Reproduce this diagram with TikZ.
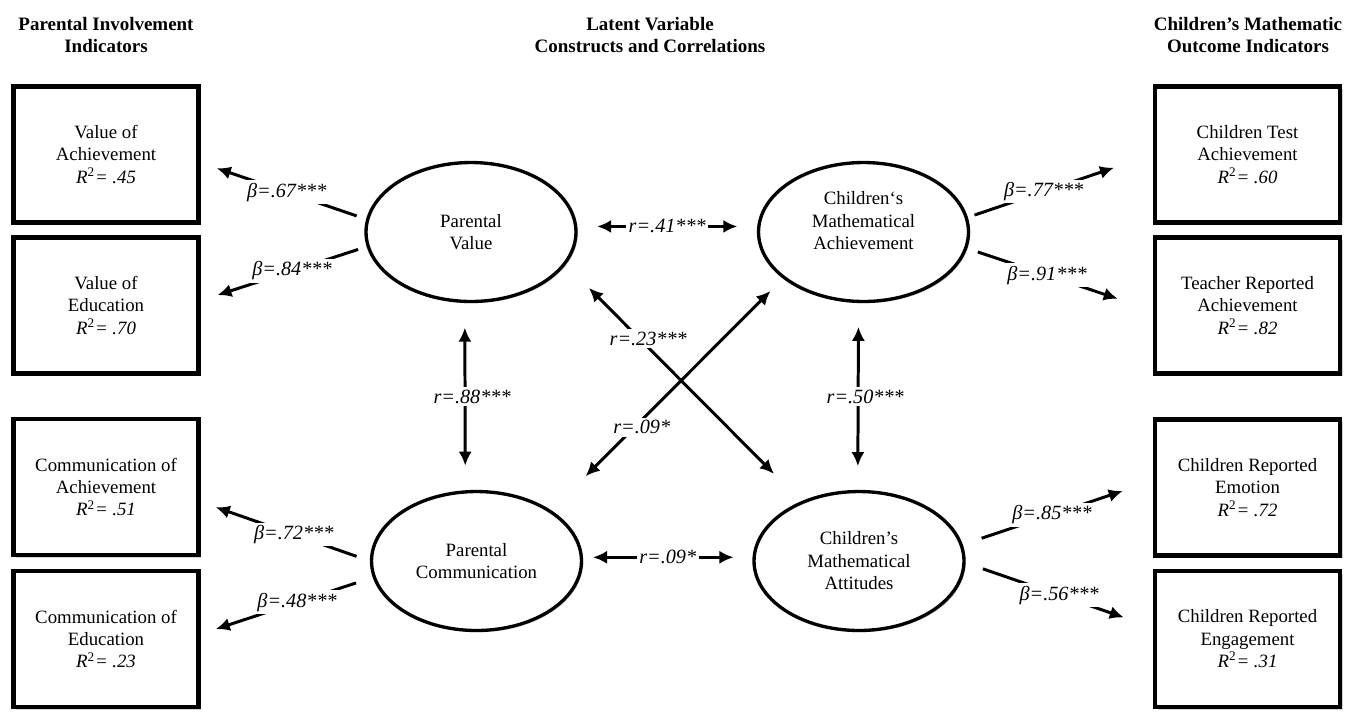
\documentclass[tikz,border=0pt]{standalone}
\usepackage{fontspec}
\setmainfont{Liberation Serif}
\usetikzlibrary{arrows.meta,shapes.geometric,shadows}
\newcommand{\rsq}[1]{\textit{R}\textsuperscript{2}\textit{= #1}}

\begin{document}
\begin{tikzpicture}[x=0.02cm,y=-0.02cm,
	every node/.style={font=\fontsize{10.7}{12.8}\selectfont,align=center},
	head/.style={font=\fontsize{10.8}{13}\selectfont\bfseries},
	ind/.style={draw,line width=2.6pt,minimum width=3.7cm,minimum height=2.72cm,fill=white,
		drop shadow={shadow xshift=1.5pt,shadow yshift=-1.5pt,opacity=0.35}},
	lat/.style={ellipse,draw,line width=1.9pt,minimum width=4.2cm,minimum height=2.78cm,inner sep=0pt,fill=white,
		drop shadow={shadow xshift=1pt,shadow yshift=-1pt,opacity=0.3}},
	load/.style={line width=1.7pt,-{Latex[length=8pt,width=7.5pt]}},
	cor/.style={line width=1.7pt,{Latex[length=8pt,width=7.5pt]}-{Latex[length=8pt,width=7.5pt]}},
	coef/.style={fill=white,inner sep=1.5pt,font=\fontsize{11.5}{13}\selectfont\itshape}]
	\useasboundingbox (0,0) rectangle (1352,711);
	\node[head] (hpar) at (106,35) {Parental Involvement\\Indicators};
	\node[head] (hlat) at (650,35) {Latent Variable\\Constructs and Correlations};
	\node[head] (hout) at (1248,35) {Children’s Mathematic\\Outcome Indicators};
	\node[ind] (valach) at (106,154.5) {Value of\\Achievement\\\rsq{.45}};
	\node[ind] (valedu) at (106,305.5) {Value of\\Education\\\rsq{.70}};
	\node[ind] (comach) at (106,487) {Communication of\\Achievement\\\rsq{.51}};
	\node[ind] (comedu) at (106,639) {Communication of\\Education\\\rsq{.23}};
	\node[ind] (testach) at (1247.5,154.5) {Children Test\\Achievement\\\rsq{.60}};
	\node[ind] (teachach) at (1247.5,305.5) {Teacher Reported\\Achievement\\\rsq{.82}};
	\node[ind] (repemo) at (1247.5,487.5) {Children Reported\\Emotion\\\rsq{.72}};
	\node[ind] (repeng) at (1247.5,639) {Children Reported\\Engagement\\\rsq{.31}};
	\node[lat] (pval) at (471,232) {Parental\\Value};
	\node[lat] (pcom) at (476.5,561) {Parental\\Communication};
	\node[lat] (cach) at (863.5,232) {Children‘s\\Mathematical\\Achievement\\\mbox{}};
	\node[lat] (catt) at (859,561) {Children’s\\Mathematical\\Attitudes};
	\draw[load,shorten <=5.7pt,shorten >=9.6pt] (pval.173.5) -- node[coef,pos=0.48] {β=.67***} (valach.-5.4);
	\draw[load,shorten <=5.1pt,shorten >=10pt] (pval.-172.3) -- node[coef,pos=0.45] {β=.84***} (valedu.3.6);
	\draw[load,shorten <=8pt,shorten >=9pt] (pcom.180) -- node[coef,pos=0.45] {β=.72***} (comach.-9.5);
	\draw[load,shorten <=10pt,shorten >=9pt] (pcom.-171) -- node[coef,pos=0.44] {β=.48***} (comedu.3.1);
	\draw[load,shorten <=4pt,shorten >=23.3pt] (cach.8) -- node[coef,pos=0.41] {β=.77***} (testach.180);
	\draw[load,shorten <=6.3pt,shorten >=21pt] (cach.-9) -- node[coef,pos=0.43] {β=.91***} (teachach.183.2);
	\draw[load,shorten <=11.3pt,shorten >=18pt] (catt.9.2) -- node[coef,pos=0.47] {β=.85***} (repemo.176.8);
	\draw[load,shorten <=10.4pt,shorten >=17.4pt] (catt.-1.6) -- node[coef,pos=0.5] {β=.56***} (repeng.173.4);
	\draw[cor,shorten <=11.3pt,shorten >=11.3pt] (pval.3) -- node[coef] {r=.41***} (cach.177);
	\draw[cor,shorten <=5.7pt,shorten >=10.8pt] (pcom.2) -- node[coef] {r=.09*} (catt.178);
	\draw[cor,shorten <=14pt,shorten >=14pt] (pval.-95) -- node[coef,xshift=4pt] {r=.88***} (pcom.99);
	\draw[cor,shorten <=13.5pt,shorten >=13.5pt] (cach.-94.5) -- node[coef,xshift=4pt] {r=.50***} (catt.91);
	\draw[cor,shorten <=18.7pt,shorten >=22pt] (pval.-19) -- node[coef,pos=0.35,yshift=5pt] {r=.23***} (catt.134.6);
	\draw[cor,shorten <=27.5pt,shorten >=10pt] (pcom.34.3) -- node[coef,pos=0.39,yshift=-4pt] {r=.09*} (cach.-150.7);
\end{tikzpicture}
\end{document}
